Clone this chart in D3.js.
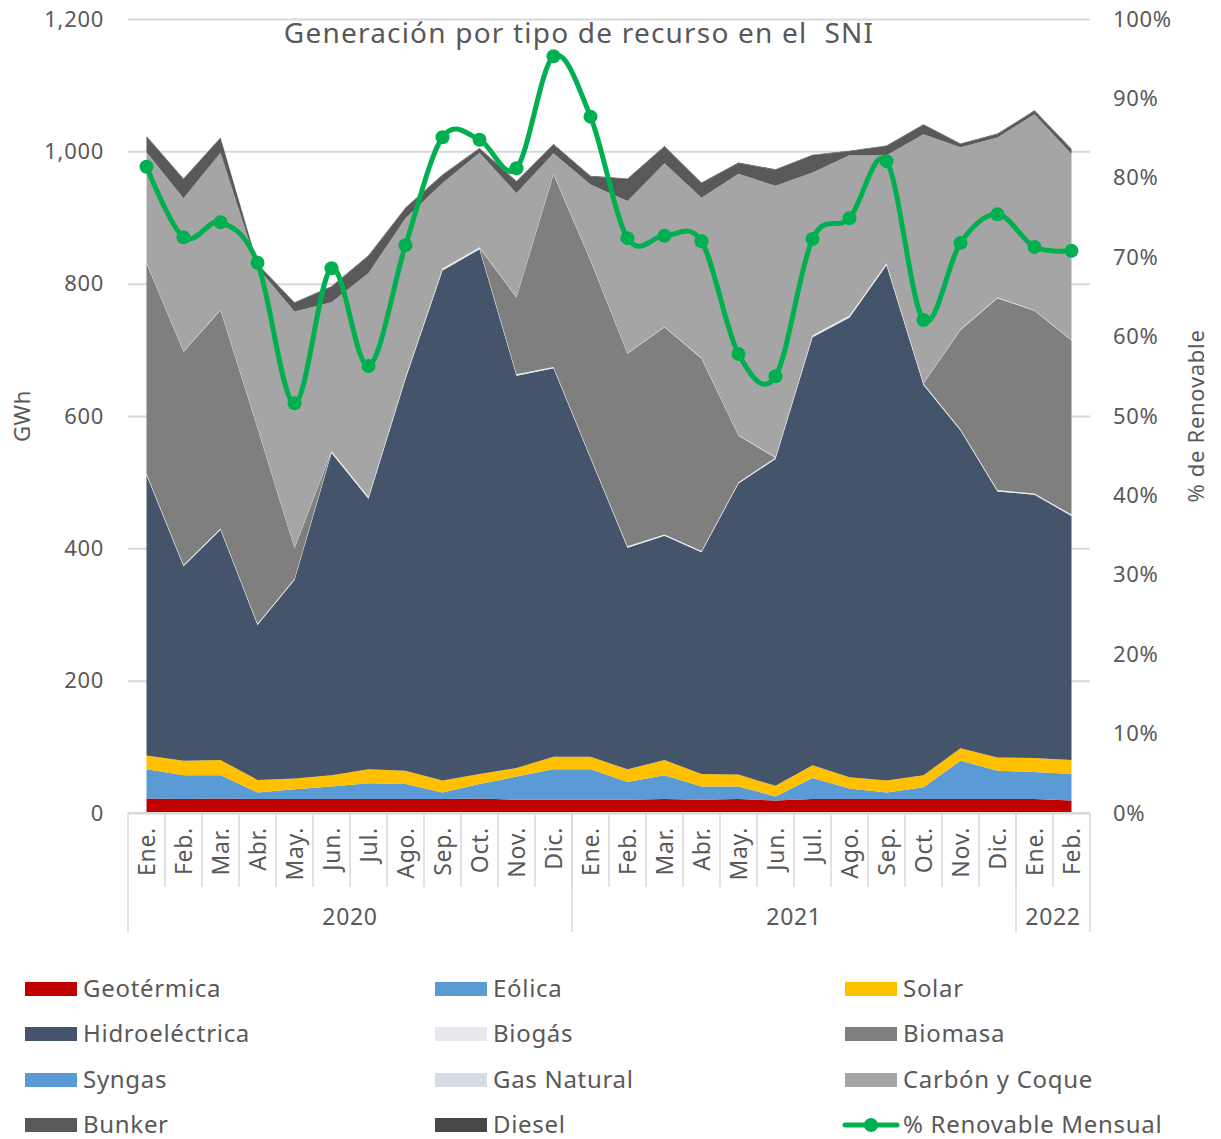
<!DOCTYPE html>
<html>
<head>
<meta charset="utf-8">
<script src="https://cdn.jsdelivr.net/npm/d3@7"></script>
<style>
  body { margin: 0; background: #ffffff; }
  svg { display: block; }
  text { font-family: 'Noto Sans', sans-serif; fill: #595959; letter-spacing: 0.7px; }
</style>
</head>
<body>
<svg id="chart" width="1221" height="1139"></svg>
<script>
// ---- data (GWh por mes, % renovable) ----
var months = ["Ene.","Feb.","Mar.","Abr.","May.","Jun.","Jul.","Ago.","Sep.","Oct.","Nov.","Dic.",
              "Ene.","Feb.","Mar.","Abr.","May.","Jun.","Jul.","Ago.","Sep.","Oct.","Nov.","Dic.",
              "Ene.","Feb."];
var years = [ { label: "2020", count: 12 }, { label: "2021", count: 12 }, { label: "2022", count: 2 } ];

var geotermica     = [22,21,22,21,21,21,21,21,21,22,20,20, 20,20,21,20,21,19,21,21,21,21,21,21, 21,19];
var eolica         = [44,36,35,10,15,19,24,23,10,22,35,46, 46,27,36,20,19,6,32,16,10,18,58,43, 41,40];
var solar          = [21,22,23,19,16,17,21,20,18,15,13,19, 19,19,23,19,18,16,19,17,18,18,19,20, 21,21];
var hidroelectrica = [424,294,348,234,300,487,409,592,771,793,593,587, 451,335,339,335,440,494,647,695,779,590,480,402, 398,369];
var biogas         = [2,2,2,2,2,2,2,2,2,2,2,2, 2,2,2,2,2,2,2,2,2,2,2,2, 2,2];
var biomasa        = [318,322,330,296,46,0,0,0,0,0,116,291, 297,291,313,291,70,0,0,0,0,0,150,290, 276,263];
var syngas         = [0,0,0,0,0,0,0,0,0,0,0,0, 0,0,0,0,0,0,0,0,0,0,0,0, 0,0];
var gasNatural     = [1,1,1,1,1,1,1,1,1,1,1,1, 1,1,1,1,1,1,1,1,1,1,1,1, 1,1];
var carbon         = [167,231,237,242,357,225,338,240,129,143,157,31, 114,230,247,242,395,410,246,242,163,376,275,242, 296,281];
var bunker         = [23,29,22,4,13,23,26,15,12,6,17,13, 12,33,25,22,16,24,26,6,14,14,5,5, 5,7];
var diesel         = [1,1,1,1,1,1,1,1,1,1,1,1, 1,1,1,1,1,1,1,1,1,1,1,1, 1,1];
var renovable      = [81.4,72.5,74.4,69.3,51.6,68.6,56.3,71.5,85.1,84.8,81.2,95.3,
                      87.7,72.4,72.7,72.0,57.8,55.0,72.3,74.9,82.1,62.1,71.8,75.4,
                      71.3,70.8];

var seriesInfo = [
  { key: "Geotérmica",     values: geotermica,     color: "#c00000" },
  { key: "Eólica",         values: eolica,         color: "#5b9bd5" },
  { key: "Solar",          values: solar,          color: "#ffc000" },
  { key: "Hidroeléctrica", values: hidroelectrica, color: "#44546a" },
  { key: "Biogás",         values: biogas,         color: "#e7e9ee" },
  { key: "Biomasa",        values: biomasa,        color: "#7f7f7f" },
  { key: "Syngas",         values: syngas,         color: "#5b9bd5" },
  { key: "Gas Natural",    values: gasNatural,     color: "#d6dce5" },
  { key: "Carbón y Coque", values: carbon,         color: "#a5a5a5" },
  { key: "Bunker",         values: bunker,         color: "#595959" },
  { key: "Diesel",         values: diesel,         color: "#484848" }
];

// ---- layout ----
var svg = d3.select("#chart");
var plotLeft = 128, plotRight = 1090, plotTop = 19, plotBottom = 813;

var rows = months.map(function(m, i){
  var r = { i: i };
  seriesInfo.forEach(function(s){ r[s.key] = s.values[i]; });
  return r;
});

var x = d3.scaleBand().domain(d3.range(months.length)).range([plotLeft, plotRight]).padding(0);
var cx = function(i){ return x(i) + x.bandwidth() / 2; };
var y = d3.scaleLinear().domain([0, 1200]).range([plotBottom, plotTop]);
var y2 = d3.scaleLinear().domain([0, 100]).range([plotBottom, plotTop]);

// gridlines + left axis
var gAxis = svg.append("g").attr("transform", "translate(" + plotLeft + ",0)")
  .call(d3.axisLeft(y).tickValues(d3.range(0, 1201, 200)).tickSize(-(plotRight - plotLeft))
        .tickFormat(d3.format(",")).tickPadding(24));
gAxis.select(".domain").remove();
gAxis.selectAll(".tick line").attr("stroke", "#d9d9d9").attr("stroke-width", 2);
gAxis.selectAll(".tick text").attr("font-size", 22).attr("font-family", null).style("fill", "#595959");

// right axis
var gRight = svg.append("g").attr("transform", "translate(" + plotRight + ",0)")
  .call(d3.axisRight(y2).tickValues(d3.range(0, 101, 10)).tickSize(0)
        .tickFormat(function(d){ return d + "%"; }).tickPadding(23));
gRight.select(".domain").remove();
gRight.selectAll(".tick text").attr("font-size", 22).attr("font-family", null).style("fill", "#595959");

// stacked areas
var stack = d3.stack().keys(seriesInfo.map(function(s){ return s.key; }));
var layers = stack(rows);
var area = d3.area()
  .x(function(d){ return cx(d.data.i); })
  .y0(function(d){ return y(d[0]); })
  .y1(function(d){ return y(d[1]); });

svg.append("g").selectAll("path")
  .data(layers)
  .enter().append("path")
    .attr("d", area)
    .attr("fill", function(d, i){ return seriesInfo[i].color; });

// x axis (two levels)
var gx = svg.append("g");
gx.append("line").attr("x1", plotLeft).attr("x2", plotRight).attr("y1", plotBottom).attr("y2", plotBottom)
  .attr("stroke", "#d9d9d9").attr("stroke-width", 2);

gx.selectAll(".sep").data(d3.range(1, months.length))
  .enter().append("line")
    .attr("x1", function(i){ return x(i); }).attr("x2", function(i){ return x(i); })
    .attr("y1", plotBottom).attr("y2", 887)
    .attr("stroke", "#d9d9d9").attr("stroke-width", 1.5);

gx.selectAll(".mlab").data(months)
  .enter().append("text")
    .attr("transform", function(d, i){ return "translate(" + (cx(i) + 8) + ",827) rotate(-90)"; })
    .attr("text-anchor", "end")
    .attr("font-size", 23)
    .text(function(d){ return d; });

var start = 0;
years.forEach(function(yr){
  var x0 = x(start), x1 = x(start + yr.count - 1) + x.bandwidth();
  gx.append("line").attr("x1", x0).attr("x2", x0).attr("y1", plotBottom).attr("y2", 932)
    .attr("stroke", "#d9d9d9").attr("stroke-width", 1.5);
  gx.append("text").attr("x", (x0 + x1) / 2).attr("y", 925)
    .attr("text-anchor", "middle").attr("font-size", 23).text(yr.label);
  start += yr.count;
});
gx.append("line").attr("x1", plotRight).attr("x2", plotRight).attr("y1", plotBottom).attr("y2", 932)
  .attr("stroke", "#d9d9d9").attr("stroke-width", 1.5);

// % renovable line
var line = d3.line()
  .x(function(d, i){ return cx(i); })
  .y(function(d){ return y2(d); })
  .curve(d3.curveCardinal.tension(0));

svg.append("path").datum(renovable)
  .attr("d", line)
  .attr("fill", "none")
  .attr("stroke", "#00b050")
  .attr("stroke-width", 5)
  .attr("stroke-linejoin", "round");

svg.append("g").selectAll("circle").data(renovable)
  .enter().append("circle")
    .attr("cx", function(d, i){ return cx(i); })
    .attr("cy", function(d){ return y2(d); })
    .attr("r", 7)
    .attr("fill", "#00b050");

// titles
svg.append("text").attr("x", 579).attr("y", 43).attr("text-anchor", "middle")
  .attr("font-size", 28).style("letter-spacing", "1.2px").attr("xml:space", "preserve")
  .text("Generación por tipo de recurso en el  SNI");

svg.append("text").attr("transform", "translate(30,416) rotate(-90)").attr("text-anchor", "middle")
  .attr("font-size", 22).text("GWh");

svg.append("text").attr("transform", "translate(1204,416) rotate(-90)").attr("text-anchor", "middle")
  .attr("font-size", 22).text("% de Renovable");

// legend (3 columns, row by row)
var legendItems = seriesInfo.map(function(s){ return { key: s.key, color: s.color, type: "area" }; });
legendItems.push({ key: "% Renovable Mensual", color: "#00b050", type: "line" });

var colX = [25, 435, 845], rowY = [989, 1034, 1080, 1125];
var lg = svg.append("g").selectAll("g").data(legendItems)
  .enter().append("g")
    .attr("transform", function(d, i){ return "translate(" + colX[i % 3] + "," + rowY[Math.floor(i / 3)] + ")"; });

lg.filter(function(d){ return d.type == "area"; }).append("rect")
  .attr("x", 0).attr("y", -7).attr("width", 52).attr("height", 14)
  .attr("fill", function(d){ return d.color; });

var ll = lg.filter(function(d){ return d.type == "line"; });
ll.append("line").attr("x1", 0).attr("x2", 52).attr("y1", 0).attr("y2", 0)
  .attr("stroke", function(d){ return d.color; }).attr("stroke-width", 5).attr("stroke-linecap", "round");
ll.append("circle").attr("cx", 26).attr("cy", 0).attr("r", 7).attr("fill", function(d){ return d.color; });

lg.append("text").attr("x", 58).attr("y", 8).attr("font-size", 24)
  .text(function(d){ return d.key; });
</script>
</body>
</html>
